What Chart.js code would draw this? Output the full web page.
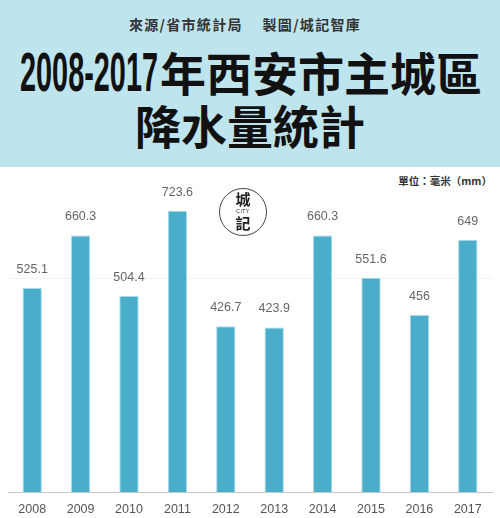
<!DOCTYPE html>
<html>
<head>
<meta charset="utf-8">
<script src="https://cdn.jsdelivr.net/npm/chart.js@4/dist/chart.umd.min.js"></script>
<style>
  html, body { margin: 0; padding: 0; background: #ffffff; }
  #page { position: relative; width: 500px; height: 518px; overflow: hidden; }
  #header { position: absolute; left: 0; top: 0; width: 500px; height: 167px; background: #bee4ee; }
  #source { position: absolute; top: 14px; left: 0; width: 490px; text-align: center;
    font: 700 14px "Noto Sans CJK TC", sans-serif; color: #333; letter-spacing: 1.3px; }
  .t { position: absolute; white-space: nowrap; color: #111; }
  #yrs { left: 20px; top: 42px; font: 700 55px "Liberation Sans", sans-serif;
    transform-origin: left top; line-height: 60px; }
  #t1 { left: 160px; top: 38px; font: 700 46px "Noto Sans CJK TC", sans-serif; line-height: 66px; }
  #t2 { left: 0; width: 500px; text-align: center; top: 91px; font: 700 46px "Noto Sans CJK TC", sans-serif; line-height: 66px; }
  #unit { position: absolute; right: 8px; top: 173px; font: 700 10.5px "Noto Sans CJK TC", sans-serif; color: #333; }
  #logo { position: absolute; left: 219px; top: 188px; width: 48px; height: 48px; border: 1px solid #444;
    border-radius: 50%; box-sizing: border-box; background: #fff; text-align: center; color: #222; }
  #logo .c1 { position: absolute; left: 0; width: 100%; top: 2px; font: 700 15px "Noto Sans CJK TC", sans-serif; line-height: 16px; }
  #logo .c2 { position: absolute; left: 0; width: 100%; top: 19px; font: 5px "Liberation Sans", sans-serif; line-height: 6px; letter-spacing: 0.5px; }
  #logo .c3 { position: absolute; left: 0; width: 100%; top: 26px; font: 700 15px "Noto Sans CJK TC", sans-serif; line-height: 16px; }
  #wrap { position: absolute; left: 0; top: 167px; width: 500px; height: 351px; }
</style>
</head>
<body>
<div id="page">
  <div id="header">
    <div id="source">來源/省市統計局　 製圖/城記智庫</div>
    <div class="t" id="yrs">2008-2017</div>
    <div class="t" id="t1">年西安市主城區</div>
    <div class="t" id="t2">降水量統計</div>
  </div>
  <div id="unit">單位：毫米（mm）</div>
  <div id="wrap"><canvas id="chart" width="500" height="351"></canvas></div>
  <div id="logo"><span class="c1">城</span><span class="c2">CITY</span><span class="c3">記</span></div>
</div>
<script>
// Squeeze the year range into a condensed look
const yrs = document.getElementById('yrs');
yrs.style.transform = 'scaleX(' + (138 / yrs.offsetWidth) + ')';

// Annual precipitation of Xi'an main urban area (mm)
const years = ['2008', '2009', '2010', '2011', '2012', '2013', '2014', '2015', '2016', '2017'];
const rainfall = [525.1, 660.3, 504.4, 723.6, 426.7, 423.9, 660.3, 551.6, 456, 649];
const guideLines = [0, 550];

// Writes each bar's value above it
const valueLabels = {
  id: 'valueLabels',
  afterDatasetsDraw(chart) {
    const ctx = chart.ctx;
    const meta = chart.getDatasetMeta(0);
    ctx.save();
    ctx.font = '12.5px "Liberation Sans", Arial, sans-serif';
    ctx.fillStyle = '#666666';
    ctx.textAlign = 'center';
    ctx.textBaseline = 'alphabetic';
    meta.data.forEach((bar, i) => {
      ctx.fillText(String(rainfall[i]), bar.x, bar.y - 15);
    });
    ctx.restore();
  }
};

new Chart(document.getElementById('chart'), {
  type: 'bar',
  data: {
    labels: years,
    datasets: [{
      data: rainfall,
      backgroundColor: '#4aaecb',
      borderColor: '#a9dbe8',
      borderWidth: 1,
      categoryPercentage: 1,
      barPercentage: 0.4
    }]
  },
  options: {
    responsive: false,
    animation: false,
    layout: { padding: { left: 8, right: 8, top: 14, bottom: 0 } },
    plugins: { legend: { display: false }, tooltip: { enabled: false } },
    scales: {
      x: {
        grid: { display: false },
        border: { display: true, color: '#c8c8c8', width: 1 },
        ticks: { color: '#555555', font: { family: '"Liberation Sans", Arial, sans-serif', size: 12.5, lineHeight: 1 }, padding: 2.5 }
      },
      y: {
        min: 0,
        max: 800,
        afterBuildTicks(scale) { scale.ticks = guideLines.map(v => ({ value: v })); },
        ticks: { display: false },
        border: { display: false },
        grid: {
          drawTicks: false,
          color: ctx => (ctx.tick && ctx.tick.value === 550 ? '#e9f5f9' : 'rgba(0,0,0,0)')
        }
      }
    }
  },
  plugins: [valueLabels]
});
</script>
</body>
</html>
